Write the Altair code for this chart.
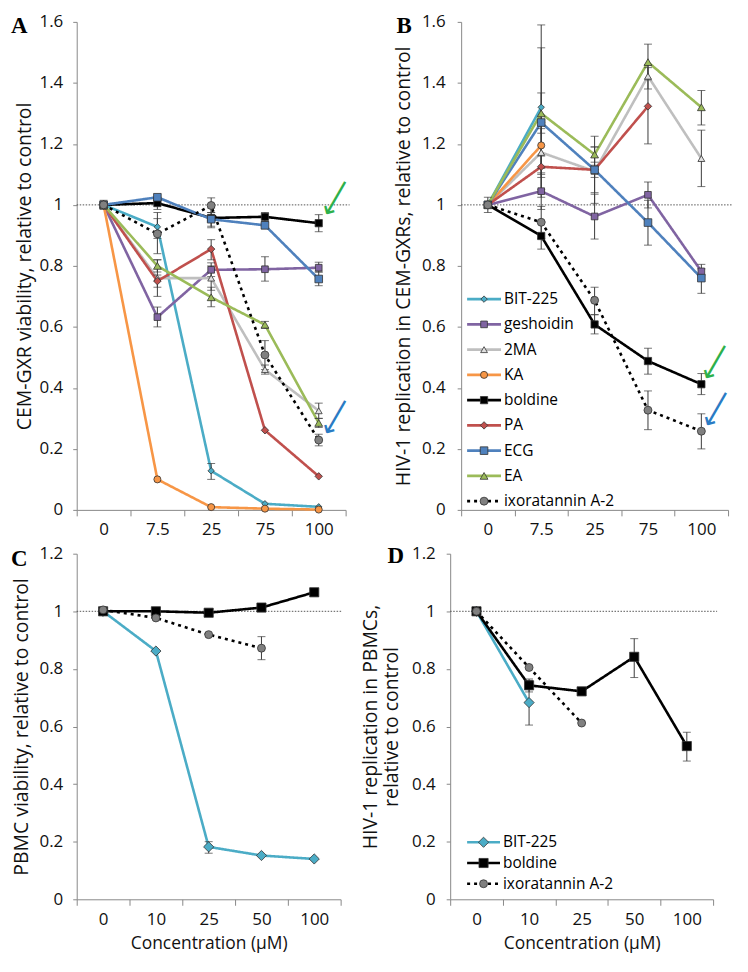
import math
import altair as alt
import pandas as pd

FONT = "Open Sans"

SERIES = ["BIT-225", "geshoidin", "2MA", "KA", "boldine", "PA", "ECG", "EA", "ixoratannin A-2"]
LINE_COLORS = ["#4BACC6", "#8064A2", "#BFBFBF", "#F79646", "#000000", "#C0504D", "#4F81BD", "#9BBB59", "#000000"]
FILL_COLORS = ["#4BACC6", "#8064A2", "#E0E0E0", "#F79646", "#000000", "#C0504D", "#4F81BD", "#9BBB59", "#808080"]
SHAPES = ["diamond", "square", "triangle-up", "circle", "square", "diamond", "square", "triangle-up", "circle"]
LINE_WIDTHS = [2.6, 2.6, 2.6, 2.6, 3.2, 2.6, 2.6, 2.6, 3.0]
DASHES = [[1, 0]] * 8 + [[3, 4]]
SIZES_AB = [42, 64, 60, 55, 115, 45, 64, 60, 115]
SIZES_CD = [105, 64, 60, 55, 115, 45, 64, 60, 105]

CONC_AB = ["0", "7.5", "25", "75", "100"]
CONC_CD = ["0", "10", "25", "50", "100"]
Y_TICKS_AB = [0, 0.2, 0.4, 0.6, 0.8, 1, 1.2, 1.4, 1.6]
Y_TICKS_CD = [0, 0.2, 0.4, 0.6, 0.8, 1, 1.2]

# Panel A: CEM-GXR viability
A_BIT = [1.0, 0.928, 0.128, 0.02, 0.01]
A_GESH = [1.0, 0.632, 0.787, 0.789, 0.794]
A_2MA = [1.0, 0.76, 0.76, 0.46, 0.325]
A_KA = [1.0, 0.10, 0.009, 0.004, 0.001]
A_BOLD = [1.0, 1.006, 0.957, 0.961, 0.94]
A_PA = [1.0, 0.75, 0.855, 0.261, 0.11]
A_ECG = [1.0, 1.025, 0.953, 0.933, 0.757]
A_EA = [1.0, 0.80, 0.697, 0.607, 0.285]
A_IXO = [1.0, 0.905, 0.998, 0.508, 0.229]

# Panel B: HIV-1 replication in CEM-GXRs
B_BIT = [1.0, 1.32, None, None, None]
B_GESH = [1.0, 1.045, 0.962, 1.033, 0.782]
B_2MA = [1.0, 1.172, 1.11, 1.422, 1.152]
B_KA = [1.0, 1.195, None, None, None]
B_BOLD = [1.0, 0.898, 0.608, 0.488, 0.412]
B_PA = [1.0, 1.125, 1.115, 1.323, None]
B_ECG = [1.0, 1.27, 1.115, 0.942, 0.76]
B_EA = [1.0, 1.30, 1.165, 1.468, 1.32]
B_IXO = [1.0, 0.943, 0.687, 0.327, 0.258]

# Panel C: PBMC viability
C_BIT = [1.0, 0.862, 0.182, 0.152, 0.14]
C_BOLD = [1.0, 1.0, 0.995, 1.013, 1.066]
C_IXO = [1.005, 0.977, 0.919, 0.872, None]

# Panel D: HIV-1 replication in PBMCs
D_BIT = [1.0, 0.683, None, None, None]
D_BOLD = [1.0, 0.743, 0.722, 0.842, 0.532]
D_IXO = [1.0, 0.805, 0.612, None, None]

A_ERR = [
    ("boldine", "0", 0.985, 1.015),
    ("boldine", "7.5", 0.985, 1.025),
    ("ixoratannin A-2", "7.5", 0.84, 0.975),
    ("BIT-225", "7.5", 0.89, 0.955),
    ("2MA", "7.5", 0.70, 0.82),
    ("geshoidin", "7.5", 0.60, 0.665),
    ("PA", "7.5", 0.73, 0.77),
    ("EA", "7.5", 0.78, 0.82),
    ("ixoratannin A-2", "25", 0.975, 1.023),
    ("boldine", "25", 0.925, 0.99),
    ("ECG", "25", 0.93, 0.975),
    ("PA", "25", 0.82, 0.886),
    ("2MA", "25", 0.72, 0.80),
    ("geshoidin", "25", 0.765, 0.81),
    ("EA", "25", 0.666, 0.73),
    ("BIT-225", "25", 0.10, 0.152),
    ("boldine", "75", 0.945, 0.975),
    ("ECG", "75", 0.922, 0.944),
    ("geshoidin", "75", 0.75, 0.83),
    ("EA", "75", 0.595, 0.618),
    ("ixoratannin A-2", "75", 0.46, 0.555),
    ("2MA", "75", 0.445, 0.475),
    ("boldine", "100", 0.912, 0.968),
    ("geshoidin", "100", 0.78, 0.812),
    ("ECG", "100", 0.735, 0.78),
    ("2MA", "100", 0.30, 0.35),
    ("EA", "100", 0.27, 0.30),
    ("ixoratannin A-2", "100", 0.21, 0.248),
]

B_ERR = [
    ("boldine", "0", 0.975, 1.025),
    ("BIT-225", "7.5", 1.05, 1.59),
    ("ECG", "7.5", 1.025, 1.515),
    ("EA", "7.5", 1.235, 1.367),
    ("2MA", "7.5", 1.10, 1.25),
    ("KA", "7.5", 1.12, 1.27),
    ("PA", "7.5", 1.09, 1.16),
    ("geshoidin", "7.5", 0.985, 1.105),
    ("ixoratannin A-2", "7.5", 0.89, 0.995),
    ("boldine", "7.5", 0.855, 0.945),
    ("ECG", "25", 1.005, 1.225),
    ("EA", "25", 1.14, 1.19),
    ("2MA", "25", 1.09, 1.13),
    ("PA", "25", 1.04, 1.19),
    ("geshoidin", "25", 0.888, 1.035),
    ("ixoratannin A-2", "25", 0.64, 0.73),
    ("boldine", "25", 0.577, 0.64),
    ("EA", "75", 1.41, 1.527),
    ("2MA", "75", 1.38, 1.46),
    ("PA", "75", 1.20, 1.45),
    ("geshoidin", "75", 0.99, 1.075),
    ("ECG", "75", 0.868, 1.015),
    ("boldine", "75", 0.445, 0.53),
    ("ixoratannin A-2", "75", 0.263, 0.39),
    ("EA", "100", 1.262, 1.375),
    ("2MA", "100", 1.06, 1.245),
    ("geshoidin", "100", 0.77, 0.805),
    ("ECG", "100", 0.71, 0.79),
    ("boldine", "100", 0.378, 0.447),
    ("ixoratannin A-2", "100", 0.20, 0.315),
]

C_ERR = [
    ("ixoratannin A-2", "50", 0.832, 0.912),
    ("BIT-225", "25", 0.16, 0.20),
    ("boldine", "0", 0.99, 1.01),
]

D_ERR = [
    ("BIT-225", "10", 0.605, 0.76),
    ("boldine", "10", 0.72, 0.765),
    ("boldine", "50", 0.77, 0.905),
    ("boldine", "100", 0.48, 0.58),
]

GREEN = "#2DB04B"
BLUE = "#2A7BC4"
ARROW_ANGLE = 300


def long_df(names, arrays, conc):
    rows = []
    for n, arr in zip(names, arrays):
        for i, (c, v) in enumerate(zip(conc, arr)):
            if v is not None:
                rows.append({"name": n, "conc": c, "v": v, "i": i})
    return pd.DataFrame(rows)


def rotated_offset(ox, oy, angle):
    # text dx/dy are applied in the rotated frame: convert a screen offset
    t = math.radians(-angle)
    return (ox * math.cos(t) - oy * math.sin(t), ox * math.sin(t) + oy * math.cos(t))


def panel(conc, names, arrays, errs, yticks, w, h, ytitle, xtitle, letter, letter_xy,
          sizes, y_lp, y_tp, legend=None, arrows=(), ref_ext=4):
    df = long_df(names, arrays, conc)
    ys = alt.Scale(domain=[0, yticks[-1]], nice=False, zero=False)
    yaxis = alt.Axis(values=yticks, format="~g", grid=False, tickSize=4,
                     labelPadding=y_lp, titlePadding=y_tp, title=ytitle,
                     labelFontSize=17, titleFontSize=19.5, titleFontWeight="normal")
    xs = alt.Scale(type="band", domain=conc, paddingInner=0, paddingOuter=0)
    xaxis_kw = dict(labelAngle=0, tickBand="extent", tickSize=6, labelPadding=6,
                    labelFontSize=17, grid=False)
    if xtitle:
        xaxis = alt.Axis(title=xtitle, titlePadding=7, titleFontSize=17.5,
                         titleFontWeight="normal", **xaxis_kw)
    else:
        xaxis = alt.Axis(title=None, **xaxis_kw)
    X = alt.X("conc:O", scale=xs, axis=xaxis)

    def Y(f):
        return alt.Y(f"{f}:Q", scale=ys, axis=yaxis)

    cs = alt.Scale(domain=SERIES, range=LINE_COLORS)
    fs = alt.Scale(domain=SERIES, range=FILL_COLORS)
    ss = alt.Scale(domain=SERIES, range=SHAPES)
    ws = alt.Scale(domain=SERIES, range=LINE_WIDTHS)
    ds = alt.Scale(domain=SERIES, range=DASHES)
    zs = alt.Scale(domain=SERIES, range=sizes)

    layers = []
    ref = alt.Chart(pd.DataFrame({"r": [1.0]})).mark_rule(
        color="#555555", strokeDash=[1.5, 1.5], strokeWidth=1
    ).encode(y=Y("r"), x=alt.value(0), x2=alt.value(w + ref_ext))
    layers.append(ref)

    lines = alt.Chart(df).mark_line().encode(
        x=X, y=Y("v"),
        color=alt.Color("name:N", scale=cs, legend=None),
        strokeWidth=alt.StrokeWidth("name:N", scale=ws, legend=None),
        strokeDash=alt.StrokeDash("name:N", scale=ds, legend=None),
        order=alt.Order("i:Q"),
    )
    layers.append(lines)

    edf = pd.DataFrame(errs, columns=["name", "conc", "lo", "hi"])
    erule = alt.Chart(edf).mark_rule(color="#3A3A3A", strokeWidth=1).encode(
        x=X, y=Y("lo"), y2="hi:Q")
    cdf = pd.concat([
        edf[["conc", "lo"]].rename(columns={"lo": "cap"}),
        edf[["conc", "hi"]].rename(columns={"hi": "cap"}),
    ])
    caps = alt.Chart(cdf).mark_tick(color="#3A3A3A", thickness=1, size=8).encode(
        x=X, y=Y("cap"))
    layers += [erule, caps]

    pts = alt.Chart(df).mark_point(filled=True, opacity=1, stroke="#333333", strokeWidth=0.8).encode(
        x=X, y=Y("v"),
        shape=alt.Shape("name:N", scale=ss, legend=None),
        fill=alt.Fill("name:N", scale=fs, legend=None),
        size=alt.Size("name:N", scale=zs, legend=None),
    )
    layers.append(pts)

    if legend:
        lnames, ltop, lstep, lx0, lx1, ltx = legend
        ldf = pd.DataFrame({"name": lnames,
                            "ly": [ltop - k * lstep for k in range(len(lnames))]})
        lrule = alt.Chart(ldf).mark_rule().encode(
            x=alt.value(lx0), x2=alt.value(lx1), y=Y("ly"),
            color=alt.Color("name:N", scale=cs, legend=None),
            strokeWidth=alt.StrokeWidth("name:N", scale=ws, legend=None),
            strokeDash=alt.StrokeDash("name:N", scale=ds, legend=None),
        )
        lpt = alt.Chart(ldf).mark_point(filled=True, opacity=1, stroke="#333333", strokeWidth=0.8).encode(
            x=alt.value((lx0 + lx1) / 2), y=Y("ly"),
            shape=alt.Shape("name:N", scale=ss, legend=None),
            fill=alt.Fill("name:N", scale=fs, legend=None),
            size=alt.Size("name:N", scale=zs, legend=None),
        )
        ltxt = alt.Chart(ldf).mark_text(align="left", baseline="middle", font=FONT, fontSize=15.5,
                                        color="#000000").encode(
            x=alt.value(ltx), y=Y("ly"), text="name:N")
        layers += [lrule, lpt, ltxt]

    for (val, col, ox, oy) in arrows:
        adf = pd.DataFrame({"conc": [conc[-1]], "v": [val]})
        dx, dy = rotated_offset(ox, oy, ARROW_ANGLE)
        arr = alt.Chart(adf).mark_text(text="⟵", font="DejaVu Sans", fontSize=28, color=col,
                                       dx=dx, dy=dy, angle=ARROW_ANGLE, baseline="middle",
                                       align="center").encode(x=X, y=Y("v"))
        layers.append(arr)

    let = alt.Chart(pd.DataFrame({"t": [letter]})).mark_text(
        font="Liberation Serif", fontWeight="bold", fontSize=23, align="left",
        baseline="middle", color="#000000"
    ).encode(x=alt.value(letter_xy[0]), y=alt.value(letter_xy[1]), text="t:N")
    layers.append(let)

    return alt.layer(*layers).properties(width=w, height=h)


A = panel(CONC_AB, SERIES, [A_BIT, A_GESH, A_2MA, A_KA, A_BOLD, A_PA, A_ECG, A_EA, A_IXO], A_ERR,
          Y_TICKS_AB, 270, 490, "CEM-GXR viability, relative to control", None, "A", (-66, 4),
          SIZES_AB, 10, 5,
          arrows=[(A_BOLD[-1], GREEN, 18, -25), (A_IXO[-1], BLUE, 18, -23)], ref_ext=4)

B = panel(CONC_AB, SERIES, [B_BIT, B_GESH, B_2MA, B_KA, B_BOLD, B_PA, B_ECG, B_EA, B_IXO], B_ERR,
          Y_TICKS_AB, 268, 490, "HIV-1 replication in CEM-GXRs, relative to control", None, "B", (-65, 4),
          SIZES_AB, 12, 8,
          legend=(SERIES, 0.691, 0.0828, 6, 40, 43),
          arrows=[(B_BOLD[-1], GREEN, 15, -22), (B_IXO[-1], BLUE, 16, -22)], ref_ext=4)

CD_NAMES = ["BIT-225", "boldine", "ixoratannin A-2"]

C = panel(CONC_CD, CD_NAMES, [C_BIT, C_BOLD, C_IXO], C_ERR,
          Y_TICKS_CD, 265, 347, "PBMC viability, relative to control", "Concentration (µM)", "C", (-66, 5),
          SIZES_CD, 10, 8, ref_ext=2)

D = panel(CONC_CD, CD_NAMES, [D_BIT, D_BOLD, D_IXO], D_ERR,
          Y_TICKS_CD, 264, 347, ["HIV-1 replication in PBMCs,", "relative to control"],
          "Concentration (µM)", "D", (-63, 2),
          SIZES_CD, 11, 10,
          legend=(CD_NAMES, 0.198, 0.072, 17, 50, 53), ref_ext=4)

res = dict(x="independent", y="independent", size="independent")
top = alt.hconcat(A, B, spacing=34).resolve_scale(**res)
bottom = alt.hconcat(C, D, spacing=16).resolve_scale(**res)
chart = alt.vconcat(top, bottom, spacing=7).resolve_scale(**res).properties(
    padding={"left": 3, "top": 3, "right": 0, "bottom": 0}, background="white"
).configure_view(stroke=None).configure_axis(
    domainColor="#888888", tickColor="#888888", labelColor="#111111", titleColor="#111111",
    labelFont=FONT, titleFont=FONT
).configure_text(font=FONT)

chart.save("out.html", embed_options={"renderer": "svg", "actions": False})
